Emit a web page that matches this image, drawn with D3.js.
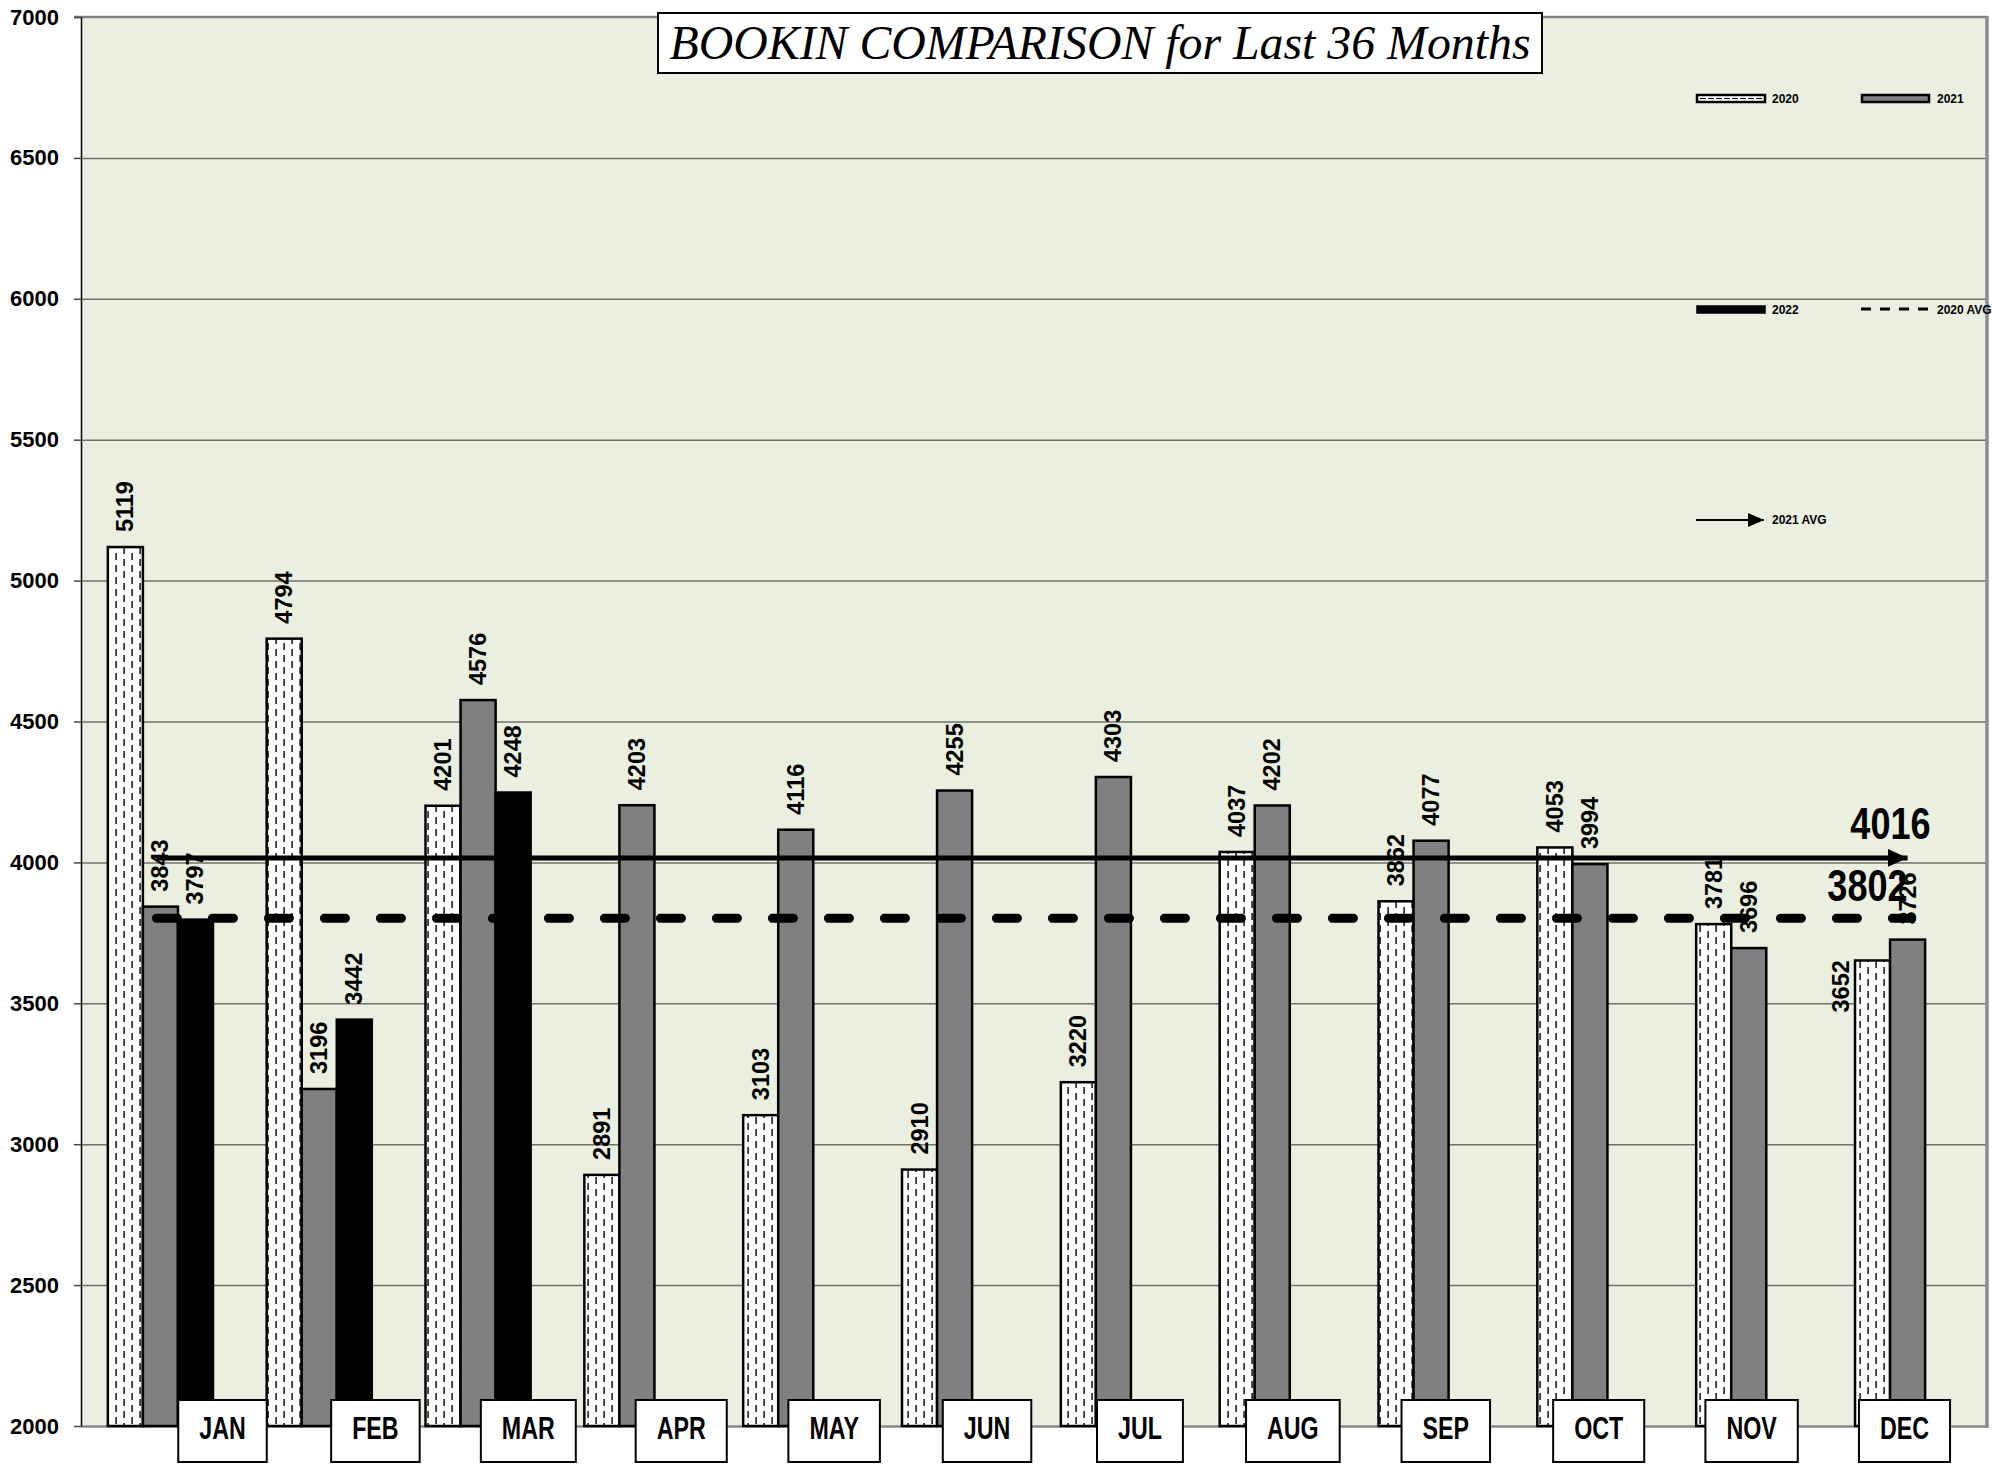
<!DOCTYPE html>
<html>
<head>
<meta charset="utf-8">
<script src="https://cdn.jsdelivr.net/npm/d3@7"></script>
<style>
  body { margin: 0; background: #fff; }
  svg { display: block; }
</style>
</head>
<body>
<div id="chart"></div>
<script>
// Chart data
var months = ["JAN", "FEB", "MAR", "APR", "MAY", "JUN", "JUL", "AUG", "SEP", "OCT", "NOV", "DEC"];
var seriesNames = ["2020", "2021", "2022"];
var values2020 = [5119, 4794, 4201, 2891, 3103, 2910, 3220, 4037, 3862, 4053, 3781, 3652];
var values2021 = [3843, 3196, 4576, 4203, 4116, 4255, 4303, 4202, 4077, 3994, 3696, 3726];
var values2022 = [3797, 3442, 4248];
var yTicks = [2000, 2500, 3000, 3500, 4000, 4500, 5000, 5500, 6000, 6500, 7000];
var titleText = "BOOKIN COMPARISON for Last 36 Months";

// Size and plot area
var svgWidth = 2011;
var svgHeight = 1465;
var plot = { left: 81, top: 17, right: 1987, bottom: 1426 };

// no narrow font installed, so squeeze the bold sans instead
var narrow = 0.82;
var sansFont = "'Liberation Sans', Arial, sans-serif";

var svg = d3
  .select("#chart")
  .append("svg")
  .attr("width", svgWidth)
  .attr("height", svgHeight);

var defs = svg.append("defs");

// dashed fill used by the 2020 bars
var pat = defs
  .append("pattern")
  .attr("id", "dash2020")
  .attr("patternUnits", "userSpaceOnUse")
  .attr("width", 16)
  .attr("height", 12);
pat.append("rect").attr("width", 16).attr("height", 12).attr("fill", "#fff");
pat.append("rect").attr("x", 3.4).attr("y", 1).attr("width", 1.4).attr("height", 7).attr("fill", "#000");
pat.append("rect").attr("x", 11.4).attr("y", 7).attr("width", 1.4).attr("height", 5).attr("fill", "#000");
pat.append("rect").attr("x", 11.4).attr("y", 0).attr("width", 1.4).attr("height", 2).attr("fill", "#000");

defs
  .append("marker")
  .attr("id", "arrow")
  .attr("markerUnits", "userSpaceOnUse")
  .attr("viewBox", "0 0 20 18")
  .attr("markerWidth", 20)
  .attr("markerHeight", 18)
  .attr("refX", 20)
  .attr("refY", 9)
  .attr("orient", "auto")
  .append("path")
  .attr("d", "M0,0L20,9L0,18Z")
  .attr("fill", "#000");

defs
  .append("marker")
  .attr("id", "arrowSmall")
  .attr("markerUnits", "userSpaceOnUse")
  .attr("viewBox", "0 0 16 14")
  .attr("markerWidth", 16)
  .attr("markerHeight", 14)
  .attr("refX", 16)
  .attr("refY", 7)
  .attr("orient", "auto")
  .append("path")
  .attr("d", "M0,0L16,7L0,14Z")
  .attr("fill", "#000");

// Scales
var x0 = d3
  .scaleBand()
  .domain(months)
  .range([plot.left, plot.right])
  .paddingInner(0.338)
  .paddingOuter(0.169);

var x1 = d3
  .scaleBand()
  .domain(seriesNames)
  .range([0, x0.bandwidth()]);

var y = d3
  .scaleLinear()
  .domain([2000, 7000])
  .range([plot.bottom, plot.top]);

// month label boxes sit on their own spacing
var labelX = d3
  .scalePoint()
  .domain(months)
  .range([222, 1904]);

var fills = { "2020": "url(#dash2020)", "2021": "#808080", "2022": "#000" };

// Plot background
svg
  .append("rect")
  .attr("x", plot.left)
  .attr("y", plot.top)
  .attr("width", plot.right - plot.left)
  .attr("height", plot.bottom - plot.top)
  .attr("fill", "#ebefdf");

// gridlines
svg
  .append("g")
  .attr("class", "grid")
  .attr("transform", `translate(${plot.left},0)`)
  .call(
    d3.axisLeft(y)
      .tickValues(yTicks.slice(1, -1))
      .tickSize(-(plot.right - plot.left))
      .tickFormat("")
  )
  .call(g => g.select(".domain").remove())
  .selectAll("line")
  .attr("stroke", "#6f7268")
  .attr("stroke-width", 1.5);

// frame lines (top, bottom gray, right heavier)
svg.append("line")
  .attr("x1", plot.left - 7).attr("x2", plot.right)
  .attr("y1", y(7000)).attr("y2", y(7000))
  .attr("stroke", "#7f7f7f").attr("stroke-width", 2.5);
svg.append("line")
  .attr("x1", plot.left).attr("x2", plot.right)
  .attr("y1", y(2000) + 0.5).attr("y2", y(2000) + 0.5)
  .attr("stroke", "#8a8a8a").attr("stroke-width", 2.5);
svg.append("line")
  .attr("x1", plot.right).attr("x2", plot.right)
  .attr("y1", plot.top - 1).attr("y2", plot.bottom + 2)
  .attr("stroke", "#8c8c8c").attr("stroke-width", 3.5);

// y axis
var yAxis = svg
  .append("g")
  .attr("transform", `translate(${plot.left},0)`)
  .call(d3.axisLeft(y).tickValues(yTicks).tickSize(7).tickSizeOuter(0).tickPadding(15).tickFormat(d3.format("d")));
yAxis.select(".domain").attr("stroke", "#000").attr("stroke-width", 1.5);
yAxis.selectAll("line").attr("stroke", "#444").attr("stroke-width", 1.5);
yAxis
  .selectAll("text")
  .attr("fill", "#000")
  .style("font-family", sansFont)
  .style("font-weight", "bold")
  .style("font-size", "22px");

// Bars
var barData = [];
months.forEach(function(m, i) {
  barData.push({ month: m, series: "2020", value: values2020[i] });
  barData.push({ month: m, series: "2021", value: values2021[i] });
  if (i < values2022.length) {
    barData.push({ month: m, series: "2022", value: values2022[i] });
  }
});

svg
  .append("g")
  .selectAll("rect")
  .data(barData)
  .enter()
  .append("rect")
  .attr("x", d => x0(d.month) + x1(d.series))
  .attr("y", d => y(d.value))
  .attr("width", x1.bandwidth())
  .attr("height", d => y(2000) - y(d.value))
  .attr("fill", d => fills[d.series])
  .attr("stroke", "#000")
  .attr("stroke-width", 2.5);

// Average lines
var avg2020 = Math.round(d3.mean(values2020));
var avg2021 = Math.round(d3.mean(values2021));
var lineStart = x0("JAN") + x0.bandwidth() / 2 - 4;
var lineEnd = x0("DEC") + x0.bandwidth() / 2;

svg
  .append("line")
  .attr("x1", lineStart)
  .attr("x2", lineEnd + 4)
  .attr("y1", y(avg2020))
  .attr("y2", y(avg2020))
  .attr("stroke", "#000")
  .attr("stroke-width", 9)
  .attr("stroke-linecap", "round")
  .attr("stroke-dasharray", "21,35");

svg
  .append("line")
  .attr("x1", lineStart)
  .attr("x2", lineEnd)
  .attr("y1", y(avg2021))
  .attr("y2", y(avg2021))
  .attr("stroke", "#000")
  .attr("stroke-width", 5)
  .attr("marker-end", "url(#arrow)");

function bigLabel(value, xRight, yBase) {
  svg
    .append("text")
    .attr("transform", `translate(${xRight},${yBase}) scale(${narrow},1)`)
    .attr("text-anchor", "end")
    .style("font-family", sansFont)
    .style("font-weight", "bold")
    .style("font-size", "44px")
    .text(value);
}
bigLabel(avg2021, lineEnd + 23, y(avg2021) - 19);
bigLabel(avg2020, lineEnd, y(avg2020) - 17);

// value labels (the Dec 2020 one was moved beside its bar to clear the avg label)
function labelTransform(d) {
  var cx = x0(d.month) + x1(d.series) + x1.bandwidth() / 2 + 8;
  var base = y(d.value) - 15;
  if (d.month === "DEC" && d.series === "2020") {
    cx -= 32;
    base = y(d.value) + 52;
  }
  return `translate(${cx},${base}) rotate(-90)`;
}

svg
  .append("g")
  .selectAll("text")
  .data(barData)
  .enter()
  .append("text")
  .attr("transform", labelTransform)
  .attr("text-anchor", "start")
  .style("font-family", sansFont)
  .style("font-weight", "bold")
  .style("font-size", "23.5px")
  .text(d => d.value);

// month axis with boxed labels
var monthSqueeze = 0.75;
var xAxis = svg
  .append("g")
  .attr("transform", `translate(0,${plot.bottom})`)
  .call(d3.axisBottom(labelX).tickSize(0));
xAxis.select(".domain").remove();
xAxis
  .selectAll("text")
  .attr("y", 0)
  .attr("dy", 0)
  .attr("transform", `translate(0,13) scale(${monthSqueeze},1)`)
  .attr("fill", "#000")
  .style("font-family", sansFont)
  .style("font-weight", "bold")
  .style("font-size", "31px");
xAxis.selectAll(".tick").each(function() {
  var t = d3.select(this).select("text");
  var w = t.node().getComputedTextLength() * monthSqueeze + 42;
  d3.select(this)
    .insert("rect", "text")
    .attr("x", -w / 2)
    .attr("y", -26)
    .attr("width", w)
    .attr("height", 62)
    .attr("fill", "#fff")
    .attr("stroke", "#000")
    .attr("stroke-width", 2);
});

// Title
svg
  .append("rect")
  .attr("x", 658)
  .attr("y", 13)
  .attr("width", 884)
  .attr("height", 60)
  .attr("fill", "#fff")
  .attr("stroke", "#000")
  .attr("stroke-width", 2);
svg
  .append("text")
  .attr("x", 1100)
  .attr("y", 59)
  .attr("text-anchor", "middle")
  .attr("textLength", 861)
  .attr("lengthAdjust", "spacingAndGlyphs")
  .style("font-family", "'Liberation Serif', 'Times New Roman', serif")
  .style("font-style", "italic")
  .style("font-size", "48px")
  .text(titleText);

// Legend
var legend = svg.append("g");
var legendFont = function(sel) {
  sel
    .style("font-family", sansFont)
    .style("font-weight", "bold")
    .style("font-size", "12px")
    .attr("dy", "0.35em");
};

// 2020 swatch
legend.append("rect").attr("x", 1697).attr("y", 95).attr("width", 68).attr("height", 7)
  .attr("fill", "#fff").attr("stroke", "#000").attr("stroke-width", 2.5);
legend.append("line").attr("x1", 1700).attr("x2", 1762).attr("y1", 98.5).attr("y2", 98.5)
  .attr("stroke", "#000").attr("stroke-width", 1).attr("stroke-dasharray", "6,2");
legend.append("text").attr("x", 1772).attr("y", 99).text(seriesNames[0]).call(legendFont);

// 2021 swatch
legend.append("rect").attr("x", 1862).attr("y", 95).attr("width", 67).attr("height", 7)
  .attr("fill", "#808080").attr("stroke", "#000").attr("stroke-width", 2.5);
legend.append("text").attr("x", 1937).attr("y", 99).text(seriesNames[1]).call(legendFont);

// 2022 swatch
legend.append("rect").attr("x", 1697).attr("y", 306).attr("width", 68).attr("height", 7)
  .attr("fill", "#000").attr("stroke", "#000").attr("stroke-width", 1.5);
legend.append("text").attr("x", 1772).attr("y", 310).text(seriesNames[2]).call(legendFont);

// 2020 AVG
legend.append("line").attr("x1", 1861).attr("x2", 1928).attr("y1", 309).attr("y2", 309)
  .attr("stroke", "#000").attr("stroke-width", 3).attr("stroke-dasharray", "10,9");
legend.append("text").attr("x", 1937).attr("y", 310).text("2020 AVG").call(legendFont);

// 2021 AVG
legend.append("line").attr("x1", 1696).attr("x2", 1764).attr("y1", 520).attr("y2", 520)
  .attr("stroke", "#000").attr("stroke-width", 2).attr("marker-end", "url(#arrowSmall)");
legend.append("text").attr("x", 1772).attr("y", 520).text("2021 AVG").call(legendFont);
</script>
</body>
</html>
